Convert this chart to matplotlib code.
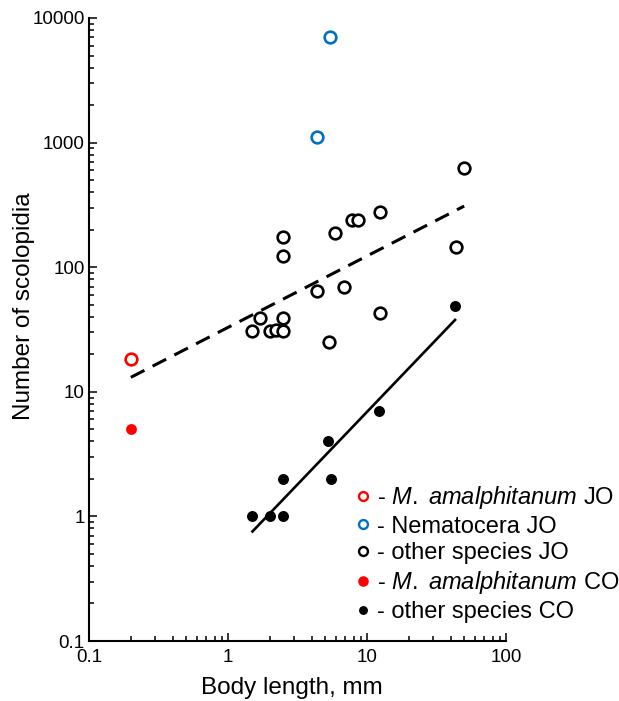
# scolopidia number vs body length, log-log, JO and CO
import matplotlib
matplotlib.use('Agg')
import matplotlib.pyplot as plt
from matplotlib.lines import Line2D
from matplotlib.ticker import LogLocator, FuncFormatter, NullFormatter
import numpy as np

plt.rcParams['font.family'] = ['Liberation Sans', 'DejaVu Sans']
plt.rcParams['mathtext.fontset'] = 'custom'
plt.rcParams['mathtext.rm'] = 'Liberation Sans'
plt.rcParams['mathtext.it'] = 'Liberation Sans:italic'

# M. amalphitanum
mam_len = [0.2]
mam_jo = [18.5]
mam_co = [5.0]

# Nematocera JO
nem_len = [5.4, 4.4]
nem_jo = [7100, 1100]

# other species JO
jo_len = [50, 12.5, 7.8, 8.6, 5.9, 2.5, 2.5, 44, 4.4, 6.8, 12.4,
          1.7, 2.5, 1.5, 2.0, 2.2, 2.5, 5.3]
jo_num = [630, 275, 240, 240, 187, 175, 123, 146, 64, 70, 43,
          39, 39, 30.5, 30.5, 31.5, 30.5, 25]

# other species CO
co_len = [1.5, 2.0, 2.5, 2.5, 5.2, 5.5, 12.2, 43]
co_num = [1, 1, 1, 2, 4, 2, 7, 49]

red = '#ff0000'
blue = '#0070c0'


def loglog_fit(x, y):
    '''power-law fit, returns (slope, intercept) in log10 space.'''
    return np.polyfit(np.log10(x), np.log10(y), 1)


def main():
    fig = plt.figure(figsize=(6.19, 7.01), dpi=100)
    ax = fig.add_axes([89 / 619, 60 / 701, 417 / 619, 623 / 701])

    ax.set_xscale('log')
    ax.set_yscale('log')
    ax.set_xlim(0.1, 100)
    ax.set_ylim(0.1, 10000)

    # spines
    ax.spines['top'].set_visible(False)
    ax.spines['right'].set_visible(False)
    ax.spines['bottom'].set_linewidth(1.5)
    ax.spines['left'].set_linewidth(1.5)

    # ticks
    for axis in (ax.xaxis, ax.yaxis):
        axis.set_major_locator(LogLocator(base=10, numticks=10))
        axis.set_minor_locator(LogLocator(base=10, subs=np.arange(2, 10), numticks=10))
        axis.set_major_formatter(FuncFormatter(lambda v, p: '{:g}'.format(v)))
        axis.set_minor_formatter(NullFormatter())
    ax.tick_params(which='major', direction='in', length=5.5, width=1.1, labelsize=13.5)
    ax.tick_params(which='minor', direction='in', length=3.5, width=1.1)
    ax.tick_params(axis='y', pad=3)
    ax.tick_params(axis='x', pad=6)

    # fitted lines
    jo_all_len = mam_len + jo_len
    jo_all_num = mam_jo + jo_num
    k, b = loglog_fit(jo_all_len, jo_all_num)
    xs = np.array([min(jo_all_len), max(jo_all_len)])
    ax.plot(xs, 10 ** (k * np.log10(xs) + b), c='k', lw=2.2, ls=(0, (5, 3.0)), zorder=2)

    k, b = loglog_fit(co_len, co_num)
    xs = np.array([min(co_len), max(co_len)])
    ax.plot(xs, 10 ** (k * np.log10(xs) + b), c='k', lw=1.9, zorder=2)

    # points
    ms_open = 8.4
    mew = 1.9
    ax.plot(jo_len, jo_num, 'o', mfc='white', mec='k', ms=ms_open, mew=mew, zorder=3)
    ax.plot(nem_len, nem_jo, 'o', mfc='white', mec=blue, ms=ms_open, mew=mew, zorder=3)
    ax.plot(mam_len, mam_jo, 'o', mfc='white', mec=red, ms=ms_open, mew=mew, zorder=3)
    ax.plot(co_len, co_num, 'o', mfc='k', mec='k', ms=7.9, mew=0, zorder=3)
    ax.plot(mam_len, mam_co, 'o', mfc=red, mec=red, ms=7.8, mew=0, zorder=3)

    # labels
    ax.set_xlabel('Body length, mm', fontsize=17.5, va='center')
    ax.xaxis.set_label_coords(0.486, -0.075)
    ax.set_ylabel('Number of scolopidia', fontsize=17.5, va='center')
    ax.yaxis.set_label_coords(-0.157, 0.538)

    # legend
    handles = [
        Line2D([], [], ls='none', marker='o', mfc='white', mec=red, ms=6.4, mew=1.7),
        Line2D([], [], ls='none', marker='o', mfc='white', mec=blue, ms=6.4, mew=1.7),
        Line2D([], [], ls='none', marker='o', mfc='white', mec='k', ms=6.4, mew=1.7),
        Line2D([], [], ls='none', marker='o', mfc=red, mec=red, ms=7.6, mew=0),
        Line2D([], [], ls='none', marker='o', mfc='k', mec='k', ms=6.4, mew=0),
    ]
    labels = [
        r'- $\mathit{M.}$ $\mathit{amalphitanum}$ JO',
        '- Nematocera JO',
        '- other species JO',
        r'- $\mathit{M.}$ $\mathit{amalphitanum}$ CO',
        '- other species CO',
    ]
    ax.legend(handles, labels, loc='upper left',
              bbox_to_anchor=(356 / 619, 1 - 484 / 701),
              bbox_transform=fig.transFigure,
              frameon=False, fontsize=17, borderpad=0, borderaxespad=0,
              handlelength=0.6, handletextpad=0.3, labelspacing=0.2)

    fig.savefig('out.png', dpi=100)


if __name__ == '__main__':
    main()
